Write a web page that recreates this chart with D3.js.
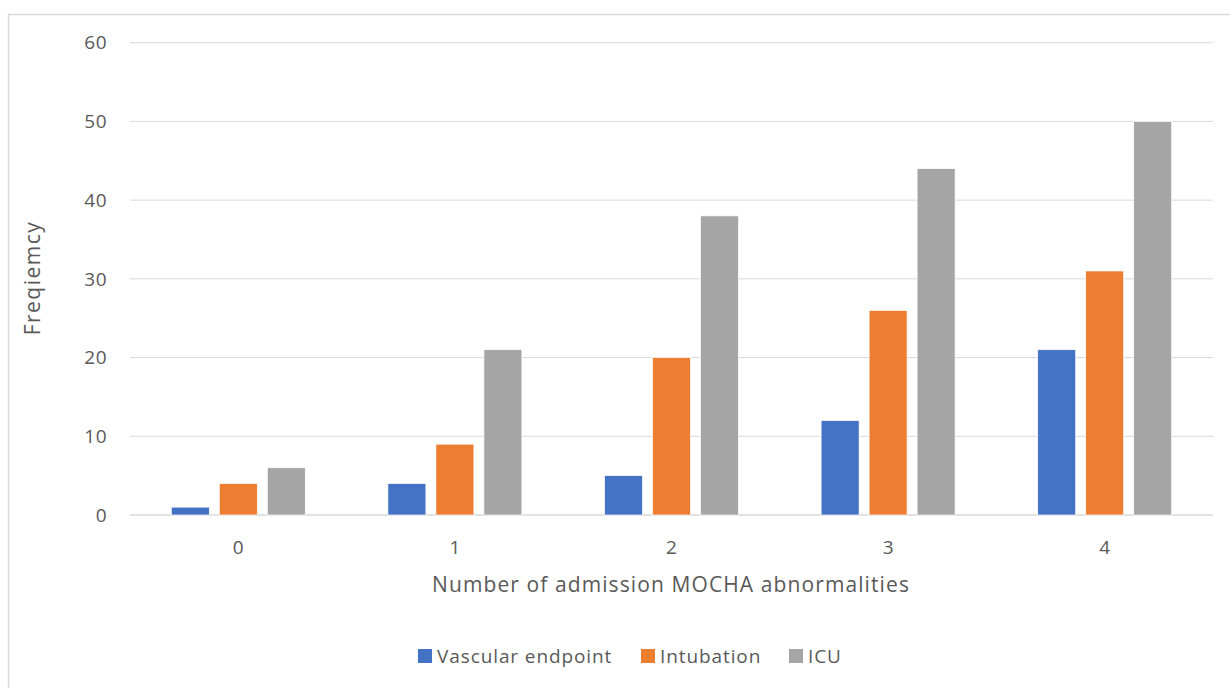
<!DOCTYPE html>
<html>
<head>
<meta charset="utf-8">
<script src="https://cdn.jsdelivr.net/npm/d3@7"></script>
<style>
  body { margin: 0; background: #fff; }
  svg { display: block; }
  text { font-family: "Open Sans", "Noto Sans", sans-serif; fill: #595959; }
</style>
</head>
<body>
<div id="chart"></div>
<script>
var categories = ["0", "1", "2", "3", "4"];
var seriesNames = ["Vascular endpoint", "Intubation", "ICU"];
var vascular = [1, 4, 5, 12, 21];
var intubation = [4, 9, 20, 26, 31];
var icu = [6, 21, 38, 44, 50];
var yTicks = [0, 10, 20, 30, 40, 50, 60];
var colors = ["#4472C4", "#ED7D31", "#A5A5A5"];

var width = 1230, height = 688;
var plotLeft = 130, plotRight = 1213, plotTop = 42.7, plotBottom = 515;

var svg = d3.select("#chart").append("svg").attr("width", width).attr("height", height);

// outer frame
svg.append("rect").attr("x", 8.5).attr("y", 14.5).attr("width", 1240).attr("height", 700)
  .style("fill", "none").style("stroke", "#D9D9D9").style("stroke-width", 1.5);

var x = d3.scaleBand().domain(categories).range([plotLeft, plotRight]);
var y = d3.scaleLinear().domain([0, 60]).range([plotBottom, plotTop]);
var groupW = 134;
var xs = d3.scaleBand().domain(seriesNames).range([0, groupW]).paddingInner(10 / 48);

// gridlines
svg.append("g").selectAll("line").data(yTicks).enter().append("line")
  .attr("x1", plotLeft).attr("x2", plotRight)
  .attr("y1", function(d) { return y(d); }).attr("y2", function(d) { return y(d); })
  .style("stroke", "#D9D9D9").style("stroke-width", function(d) { return d === 0 ? 1.5 : 1; });

// y tick labels
svg.append("g").selectAll("text").data(yTicks).enter().append("text")
  .attr("x", 107).attr("y", function(d) { return y(d); }).attr("dy", "0.35em")
  .attr("text-anchor", "end").style("font-size", "19px").style("letter-spacing", "0.5px")
  .text(function(d) { return d; });

// x tick labels
svg.append("g").selectAll("text").data(categories).enter().append("text")
  .attr("x", function(d) { return x(d) + x.bandwidth() / 2; }).attr("y", 547)
  .attr("dy", "0.35em").attr("text-anchor", "middle").style("font-size", "19px")
  .text(function(d) { return d; });

// bars
var allSeries = [vascular, intubation, icu];
allSeries.forEach(function(vals, si) {
  svg.append("g").selectAll("rect").data(vals).enter().append("rect")
    .attr("x", function(d, i) { return x(categories[i]) + x.bandwidth() / 2 - groupW / 2 + xs(seriesNames[si]); })
    .attr("y", function(d) { return y(d); })
    .attr("width", xs.bandwidth())
    .attr("height", function(d) { return plotBottom - y(d); })
    .style("fill", colors[si])
    .style("stroke", "#fff").style("stroke-width", 0.7);
});

// axis titles
svg.append("text").attr("x", 671).attr("y", 585).attr("dy", "0.35em")
  .attr("text-anchor", "middle").style("font-size", "21px").style("letter-spacing", "1.1px")
  .text("Number of admission MOCHA abnormalities");

svg.append("text").attr("transform", "translate(33,278) rotate(-90)").attr("dy", "0.35em")
  .attr("text-anchor", "middle").style("font-size", "21px").style("letter-spacing", "1.5px")
  .text("Freqiemcy");

// legend
var legendX = [418, 641, 789];
var legend = svg.append("g").selectAll("g").data(seriesNames).enter().append("g")
  .attr("transform", function(d, i) { return "translate(" + legendX[i] + ",656)"; });
legend.append("rect").attr("x", 0).attr("y", -7).attr("width", 14).attr("height", 14)
  .style("fill", function(d, i) { return colors[i]; });
legend.append("text").attr("x", 19).attr("y", 0).attr("dy", "0.35em")
  .style("font-size", "19px").style("letter-spacing", "0.9px")
  .text(function(d) { return d; });
</script>
</body>
</html>
